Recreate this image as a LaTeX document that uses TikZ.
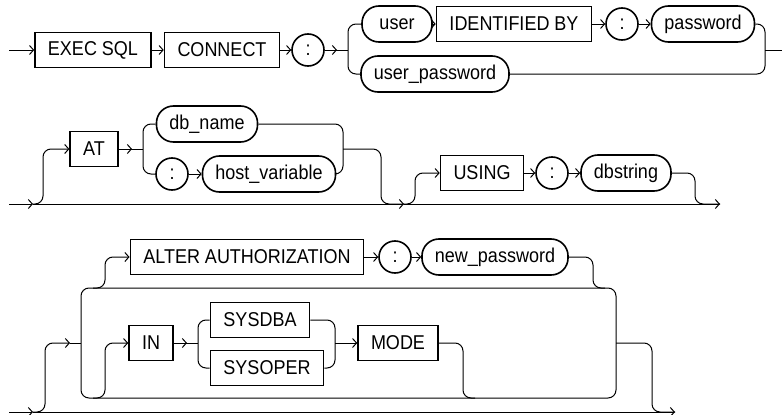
\documentclass[tikz,border=0pt]{standalone}
\usepackage{fontspec}
\setmainfont{Liberation Sans}[FakeStretch=0.9]
\usetikzlibrary{arrows.meta}
\begin{document}
\begin{tikzpicture}[x=1pt,y=-1pt,
  >={Straight Barb[length=4pt,width=9pt]},
  font=\fontsize{20}{22}\selectfont,
  kw/.style={draw,line width=1.6pt,minimum height=35pt,inner xsep=13pt,inner ysep=0pt},
  var/.style={draw,line width=1.6pt,rounded corners=17pt,minimum height=36pt,inner xsep=13pt,inner ysep=0pt},
  sym/.style={draw,circle,line width=1.6pt,minimum size=32pt,inner sep=0pt},
  rail/.style={line width=1pt,rounded corners=8pt},
  every path/.append style={line width=1pt}]
  \useasboundingbox (0,0) rectangle (782,415);

  % EXEC SQL CONNECT
  \coordinate (s1) at (9,50);
  \node[kw] (exec) at (93,50) {EXEC SQL};
  \node[kw] (connect) at (222,50) {CONNECT};
  \node[sym] (c1) at (308,50) {:};
  \coordinate (b1) at (348,50);
  \node[var,minimum width=70pt] (user) at (397,24) {user};
  \node[kw] (ident) at (514,24) {IDENTIFIED BY};
  \node[sym] (c2) at (622,24) {:};
  \node[var] (pwd) at (703,24) {password};
  \node[var] (userpwd) at (435,74) {user\_password};
  \coordinate (j1) at (765,50);
  \coordinate (e1) at (782,50);

  \draw[->] (s1) -- (exec);
  \draw[->] (exec) -- (connect);
  \draw[->] (connect) -- (c1);
  \draw (c1) -- (b1);
  \draw[->] (c1) -- ([xshift=-11pt]b1);
  \draw[rail] (user.west) -- (user.west -| b1) -- (userpwd.west -| b1) -- (userpwd.west);
  \draw[->] (user) -- (ident);
  \draw[->] (ident) -- (c2);
  \draw[->] (c2) -- (pwd);
  \draw[rail] (pwd.east) -- (pwd.east -| j1) -- (userpwd.east -| j1) -- (userpwd.east);
  \draw (j1) -- (e1);

  % AT ... USING
  \coordinate (s2) at (9,204);
  \coordinate (a2) at (33,204);
  \coordinate (u1) at (43,204);
  \node[kw] (at) at (94,149) {AT};
  \coordinate (b2) at (143,149);
  \node[var] (db) at (207,124) {db\_name};
  \node[sym] (c3) at (172,174) {:};
  \node[var] (host) at (269,174) {host\_variable};
  \coordinate (j2) at (343,149);
  \coordinate (d2) at (381,204);
  \coordinate (a3) at (404,204);
  \coordinate (u2) at (415,204);
  \node[kw] (using) at (482,173) {USING};
  \node[sym] (c4) at (552,173) {:};
  \node[var] (dbs) at (626,173) {dbstring};
  \coordinate (d4) at (695,204);
  \coordinate (e2) at (720,204);

  \draw[->] (s2) -- (a2);
  \draw[->] (a2) -- (a3);
  \draw[->] (a3) -- (e2);
  \draw[rail,->] (a2) -- (u1) |- (at.west);
  \draw (at) -- (b2);
  \draw[->] (at) -- ([xshift=-11pt]b2);
  \draw[rail] (db.west) -- (db.west -| b2) -- (c3.west -| b2) -- (c3.west);
  \draw[->] (c3) -- (host);
  \draw[rail] (db.east) -- (db.east -| j2) -- (host.east -| j2) -- (host.east);
  \draw[rail] (j2) -| (d2) -- (a3);
  \draw[rail,->] (a3) -- (u2) |- (using.west);
  \draw[->] (using) -- (c4);
  \draw[->] (c4) -- (dbs);
  \draw[rail] (dbs.east) -| (d4) -- (e2);

  % ALTER AUTHORIZATION / IN ... MODE
  \coordinate (s3) at (9,412);
  \coordinate (a4) at (33,412);
  \coordinate (u3) at (45,412);
  \coordinate (b3) at (81,343);
  \coordinate (tl) at (81,288);
  \coordinate (br) at (616,398);
  \coordinate (ua) at (105,288);
  \coordinate (ui) at (105,398);
  \node[kw] (alter) at (247,257) {ALTER AUTHORIZATION};
  \node[sym] (c5) at (395,257) {:};
  \node[var] (newpwd) at (495,257) {new\_password};
  \coordinate (ud) at (593,288);
  \node[kw] (in) at (151,343) {IN};
  \coordinate (b4) at (198,343);
  \node[kw] (sysdba) at (260,320) {SYSDBA};
  \node[kw] (sysoper) at (267,368) {SYSOPER};
  \coordinate (j4) at (335,343);
  \node[kw] (mode) at (398,343) {MODE};
  \coordinate (md) at (463,398);
  \coordinate (j3) at (616,343);
  \coordinate (d3) at (652,412);
  \coordinate (e3) at (675,412);

  \draw[->] (s3) -- (a4);
  \draw[->] (a4) -- (e3);
  \draw[rail,->] (a4) -- (u3) |- ([xshift=-11pt]b3);
  \draw ([xshift=-11pt]b3) -- (b3);
  \draw[rail] (tl) rectangle (br);
  \draw[rail,->] ([xshift=-12pt]ua) -- (ua) |- (alter.west);
  \draw[->] (alter) -- (c5);
  \draw[->] (c5) -- (newpwd);
  \draw[rail] (newpwd.east) -| (ud) -- ([xshift=12pt]ud);
  \draw[rail,->] ([xshift=-12pt]ui) -- (ui) |- (in.west);
  \draw (in) -- (b4);
  \draw[->] (in) -- ([xshift=-11pt]b4);
  \draw[rail] (sysdba.west) -- (sysdba.west -| b4) -- (sysoper.west -| b4) -- (sysoper.west);
  \draw[rail] (sysdba.east) -- (sysdba.east -| j4) -- (sysoper.east -| j4) -- (sysoper.east);
  \draw[->] (j4) -- (mode);
  \draw[rail] (mode.east) -| (md) -- ([xshift=12pt]md);
  \draw[rail] (j3) -| (d3) -- (e3);
\end{tikzpicture}
\end{document}
